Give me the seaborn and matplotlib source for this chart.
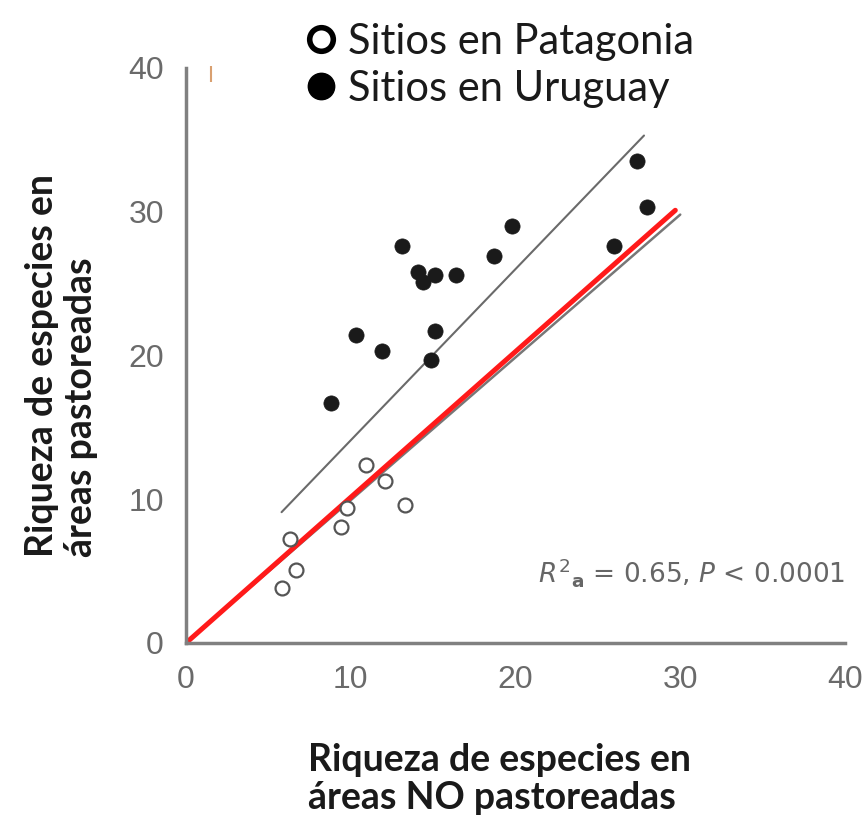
import matplotlib
matplotlib.use("Agg")
import matplotlib.pyplot as plt
import seaborn as sns
import pandas as pd
from matplotlib.lines import Line2D

# ---- data ----
uy_x = [8.8, 10.3, 11.9, 13.1, 14.1, 14.4, 15.1, 15.1, 14.9, 16.4, 18.7, 19.8, 26.0, 27.4, 28.0]
uy_y = [16.7, 21.4, 20.3, 27.6, 25.8, 25.1, 25.6, 21.7, 19.7, 25.6, 26.9, 29.0, 27.6, 33.5, 30.3]
pa_x = [5.8, 6.3, 6.7, 9.4, 9.8, 10.9, 12.1, 13.3]
pa_y = [3.8, 7.2, 5.1, 8.1, 9.4, 12.4, 11.3, 9.6]
fit_x = [5.8, 27.8]
fit_y = [9.1, 35.3]
one_x = [0, 30]
one_y = [0, 29.8]
red_x = [0, 29.7]
red_y = [0, 30.1]
mark_x = [1.5]
mark_y = [39.6]
ticks = [0, 10, 20, 30, 40]
legend_labels = ["Sitios en Patagonia", "Sitios en Uruguay"]

sns.set_theme(style="white")
plt.rcParams["font.family"] = ["Liberation Sans", "DejaVu Sans"]
plt.rcParams["mathtext.fontset"] = "dejavusans"

fig = plt.figure(figsize=(8.68, 8.17), dpi=100)
ax = fig.add_axes([0.2143, 0.213, 0.7592, 0.7038])

df_uy = pd.DataFrame({"x": uy_x, "y": uy_y})
df_pa = pd.DataFrame({"x": pa_x, "y": pa_y})

sns.lineplot(x=one_x, y=one_y, ax=ax, color="#777777", linewidth=1.8)
sns.lineplot(x=red_x, y=red_y, ax=ax, color="#ff1a1a", linewidth=3.6)
sns.lineplot(x=fit_x, y=fit_y, ax=ax, color="#6a6a6a", linewidth=1.5)

sns.scatterplot(data=df_uy, x="x", y="y", ax=ax, color="#1a1a1a", s=120,
                edgecolor="#1a1a1a", linewidth=0.5, zorder=4)
sns.scatterplot(data=df_pa, x="x", y="y", ax=ax, facecolor="white", s=100,
                edgecolor="#555555", linewidth=1.6, zorder=4)
ax.plot(mark_x, mark_y, marker="|", linestyle="none", markersize=12, color="#d9a070",
        markeredgewidth=1.5, clip_on=False)

ax.set_xlim(0, 40)
ax.set_ylim(0, 40)
ax.set_xticks(ticks)
ax.set_yticks(ticks)
ax.set_xticklabels([str(t) for t in ticks])
ax.set_yticklabels([str(t) for t in ticks])
for side in ["top", "right"]:
    ax.spines[side].set_visible(False)
for side in ["left", "bottom"]:
    ax.spines[side].set_color("#808080")
    ax.spines[side].set_linewidth(2.5)
ax.tick_params(axis="both", direction="out", length=8, width=2.2, color="#808080",
               labelcolor="#6a6a6a", labelsize=23, pad=8)
ax.set_xlabel("")
ax.set_ylabel("")

ax.text(40, 4.9, r"$R^2{}_{\mathbf{a}}$ = 0.65, $P$ < 0.0001", ha="right", va="center",
        fontsize=19, color="#666666", family=["DejaVu Sans"])

# axis titles
fig.text(0.355, 0.047, "Riqueza de especies en\náreas NO pastoreadas", ha="left",
         va="center", fontsize=27, fontweight="bold", family=["Lato", "DejaVu Sans"],
         color="#1a1a1a", linespacing=1.15, multialignment="left")
fig.text(0.071, 0.318, "Riqueza de especies en\náreas pastoreadas", ha="center",
         va="bottom", fontsize=27, fontweight="bold", family=["Lato", "DejaVu Sans"],
         color="#1a1a1a", rotation=90, linespacing=1.2, multialignment="left")

handles = [
    Line2D([], [], marker="o", linestyle="none", markersize=17, markerfacecolor="white",
           markeredgecolor="black", markeredgewidth=4),
    Line2D([], [], marker="o", linestyle="none", markersize=19, markerfacecolor="black",
           markeredgecolor="black"),
]
leg = fig.legend(handles, legend_labels, loc="center left", bbox_to_anchor=(0.307, 0.92),
                 frameon=False, prop={"family": ["Lato", "DejaVu Sans"], "size": 30},
                 handletextpad=0.25, labelspacing=0.22, handlelength=0.8)
for t in leg.get_texts():
    t.set_color("#1a1a1a")

fig.savefig("out.png", dpi=100)
